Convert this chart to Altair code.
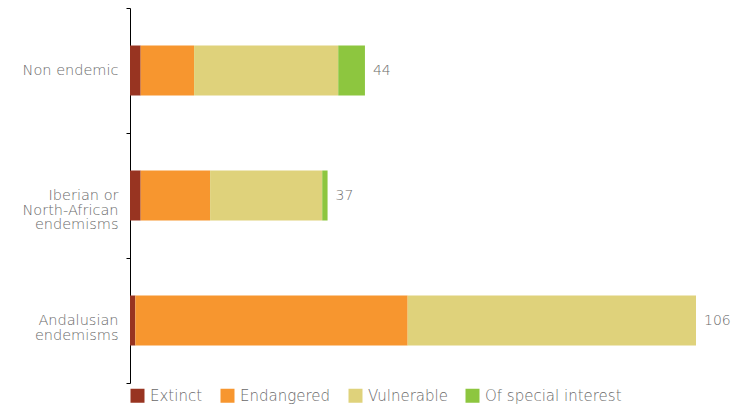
import altair as alt
import pandas as pd

categories = ["Non endemic", "Iberian or|North-African|endemisms", "Andalusian|endemisms"]
statuses = ["Extinct", "Endangered", "Vulnerable", "Of special interest"]
colors = ["#983421", "#F7962F", "#DFD27B", "#8DC63F"]

extinct = [2, 2, 1]
endangered = [10, 13, 51]
vulnerable = [27, 21, 54]
special = [5, 1, 0]
totals = [44, 37, 106]

rows = []
for i, c in enumerate(categories):
    for j, (s, vals) in enumerate(zip(statuses, [extinct, endangered, vulnerable, special])):
        rows.append({"cat": c, "status": s, "value": vals[i], "ord": j})
df = pd.DataFrame(rows)
tot = pd.DataFrame({"cat": categories, "total": totals})

font = "DejaVu Sans"
gray = "#6a6a6a"

y = alt.Y("cat:N", sort=categories, title=None,
          scale=alt.Scale(paddingInner=0, paddingOuter=0),
          axis=alt.Axis(labelExpr="split(datum.label, '|')", tickBand="extent",
                        domainColor="#000", tickColor="#000", tickSize=4,
                        labelPadding=8, labelFontSize=14.5, labelColor=gray,
                        labelFont=font, labelFontWeight=200, labelLineHeight=14.5,
                        labelLimit=200))

bars = alt.Chart(df).mark_bar(height=alt.RelativeBandSize(0.4)).encode(
    x=alt.X("value:Q", stack="zero", title=None,
            scale=alt.Scale(domain=[0, 106], nice=False),
            axis=None),
    y=y,
    color=alt.Color("status:N", sort=statuses,
                    scale=alt.Scale(domain=statuses, range=colors),
                    legend=alt.Legend(title=None, orient="none", legendX=0, legendY=380,
                                      direction="horizontal", symbolType="square",
                                      symbolSize=196, symbolStrokeWidth=0,
                                      labelFontSize=15, labelFont=font, labelFontWeight=200,
                                      labelColor=gray, columnPadding=17, labelOffset=5)),
    order=alt.Order("ord:Q"),
)

labels = alt.Chart(tot).mark_text(align="left", dx=8, fontSize=14, font=font,
                                  fontWeight=200, color=gray).encode(
    x=alt.X("total:Q"),
    y=alt.Y("cat:N", sort=categories),
    text="total:Q",
)

chart = alt.layer(bars, labels).properties(
    width=566, height=375,
    autosize="none",
    padding={"left": 122, "top": 0, "right": 36, "bottom": 21},
).configure_view(stroke=None)

chart.save("out.html", embed_options={"renderer": "svg", "actions": False})
